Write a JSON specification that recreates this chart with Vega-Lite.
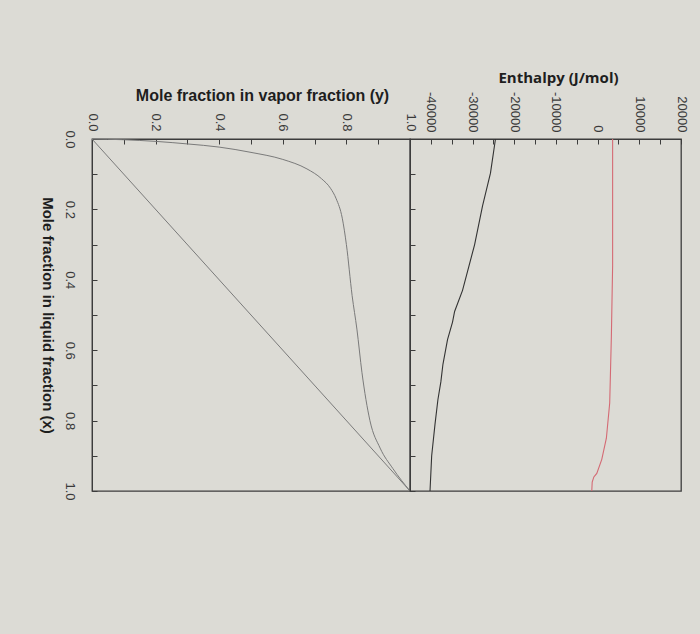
{
  "$schema": "https://vega.github.io/schema/vega-lite/v6.json",
  "background": "#dcdbd5",
  "padding": {"left": 38, "top": 69, "right": 18, "bottom": 145},
  "bounds": "flush",
  "spacing": 0,
  "config": {
    "view": {"stroke": "#3c3c3c", "strokeWidth": 1.3},
    "axis": {
      "grid": false,
      "domainColor": "#3c3c3c",
      "tickColor": "#3c3c3c",
      "labelColor": "#3a3a3a",
      "labelFont": "Liberation Sans",
      "labelFontSize": 13,
      "titleColor": "#1e1e1e",
      "titleFont": "Liberation Sans",
      "titleFontWeight": "bold",
      "labelFlush": false,
      "labelOverlap": false,
      "labelBound": false,
      "tickSize": -5
    }
  },
  "datasets": {
    "diag": [{"x_liq": 0, "y_vap": 0}, {"x_liq": 1, "y_vap": 1}],
    "eq": [
      {"x_liq": 0, "y_vap": 0},
      {"x_liq": 0.002, "y_vap": 0.097},
      {"x_liq": 0.007, "y_vap": 0.204},
      {"x_liq": 0.014, "y_vap": 0.3},
      {"x_liq": 0.023, "y_vap": 0.4},
      {"x_liq": 0.038, "y_vap": 0.5},
      {"x_liq": 0.058, "y_vap": 0.6},
      {"x_liq": 0.085, "y_vap": 0.676},
      {"x_liq": 0.113, "y_vap": 0.722},
      {"x_liq": 0.14, "y_vap": 0.75},
      {"x_liq": 0.17, "y_vap": 0.768},
      {"x_liq": 0.225, "y_vap": 0.787},
      {"x_liq": 0.3, "y_vap": 0.8},
      {"x_liq": 0.445, "y_vap": 0.818},
      {"x_liq": 0.54, "y_vap": 0.833},
      {"x_liq": 0.664, "y_vap": 0.849},
      {"x_liq": 0.8, "y_vap": 0.874},
      {"x_liq": 0.878, "y_vap": 0.906},
      {"x_liq": 0.936, "y_vap": 0.946},
      {"x_liq": 1, "y_vap": 1}
    ],
    "hv": [
      {"x_liq": 0, "H": -24500},
      {"x_liq": 0.097, "H": -25700},
      {"x_liq": 0.19, "H": -27600},
      {"x_liq": 0.3, "H": -29500},
      {"x_liq": 0.43, "H": -32400},
      {"x_liq": 0.49, "H": -34300},
      {"x_liq": 0.52, "H": -34800},
      {"x_liq": 0.57, "H": -36000},
      {"x_liq": 0.64, "H": -37100},
      {"x_liq": 0.69, "H": -37600},
      {"x_liq": 0.74, "H": -38300},
      {"x_liq": 0.81, "H": -39000},
      {"x_liq": 0.9, "H": -39800},
      {"x_liq": 1.0, "H": -40200}
    ],
    "hl": [
      {"x_liq": 0, "H": 3600},
      {"x_liq": 0.36, "H": 3600},
      {"x_liq": 0.56, "H": 3300},
      {"x_liq": 0.75, "H": 2900},
      {"x_liq": 0.85, "H": 2100},
      {"x_liq": 0.91, "H": 1000},
      {"x_liq": 0.95, "H": -200},
      {"x_liq": 0.96, "H": -900},
      {"x_liq": 0.975, "H": -1300},
      {"x_liq": 1.0, "H": -1400}
    ]
  },
  "hconcat": [
    {
      "width": 318,
      "height": 352,
      "encoding": {
        "x": {
          "field": "y_vap",
          "type": "quantitative",
          "scale": {"domain": [0, 1], "nice": false, "zero": false},
          "axis": {
            "orient": "top",
            "title": "Mole fraction in vapor fraction (y)",
            "titleFontSize": 16,
            "titlePadding": 9,
            "titleX": 170,
            "values": [0, 0.1, 0.2, 0.3, 0.4, 0.5, 0.6, 0.7, 0.8, 0.9, 1],
            "labelExpr": "round(datum.value*10) % 2 == 0 ? format(datum.value, '.1f') : ''",
            "labelAngle": 90,
            "labelAlign": "right",
            "labelBaseline": "middle",
            "labelPadding": 13
          }
        },
        "y": {
          "field": "x_liq",
          "type": "quantitative",
          "scale": {"domain": [0, 1], "nice": false, "zero": false, "reverse": true},
          "axis": {
            "orient": "left",
            "title": "Mole fraction in liquid fraction (x)",
            "titleFontSize": 15,
            "titleAngle": 90,
            "titleBaseline": "top",
            "titlePadding": 8,
            "values": [0, 0.1, 0.2, 0.3, 0.4, 0.5, 0.6, 0.7, 0.8, 0.9, 1],
            "labelExpr": "round(datum.value*10) % 2 == 0 ? format(datum.value, '.1f') : ''",
            "labelAngle": 90,
            "labelAlign": "center",
            "labelBaseline": "top",
            "labelPadding": 22
          }
        },
        "order": {"field": "x_liq", "type": "quantitative"}
      },
      "layer": [
        {"data": {"name": "diag"}, "mark": {"type": "line", "color": "#7a7a7a", "strokeWidth": 1}},
        {"data": {"name": "eq"}, "mark": {"type": "line", "color": "#7a7a7a", "strokeWidth": 1, "interpolate": "monotone"}}
      ]
    },
    {
      "width": 271,
      "height": 352,
      "encoding": {
        "x": {
          "field": "H",
          "type": "quantitative",
          "scale": {"domain": [-45000, 20000], "nice": false, "zero": false},
          "axis": {
            "orient": "top",
            "title": "Enthalpy (J/mol)",
            "titleFont": "Open Sans",
            "titleFontSize": 15,
            "titlePadding": 6,
            "titleX": 148,
            "values": [-45000, -40000, -35000, -30000, -25000, -20000, -15000, -10000, -5000, 0, 5000, 10000, 15000, 20000],
            "labelExpr": "datum.value % 10000 == 0 ? '' + datum.value : ''",
            "labelAngle": 90,
            "labelAlign": "right",
            "labelBaseline": "middle",
            "labelPadding": 12
          }
        },
        "y": {
          "field": "x_liq",
          "type": "quantitative",
          "scale": {"domain": [0, 1], "nice": false, "zero": false, "reverse": true},
          "axis": {
            "orient": "left",
            "title": null,
            "labels": false,
            "values": [0, 0.1, 0.2, 0.3, 0.4, 0.5, 0.6, 0.7, 0.8, 0.9, 1]
          }
        },
        "order": {"field": "x_liq", "type": "quantitative"}
      },
      "layer": [
        {"data": {"name": "hv"}, "mark": {"type": "line", "color": "#333333", "strokeWidth": 1.1}},
        {"data": {"name": "hl"}, "mark": {"type": "line", "color": "#d46a74", "strokeWidth": 1.1}}
      ]
    }
  ]
}
